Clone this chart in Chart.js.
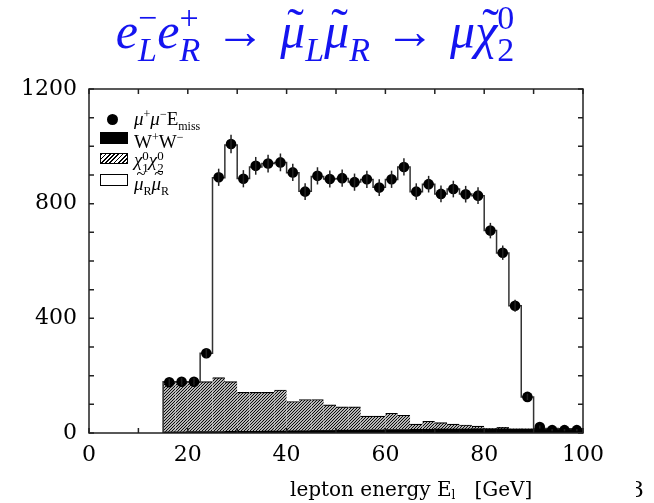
<!DOCTYPE html>
<html>
<head>
  <title>Lepton energy spectrum</title>
  <script src="https://cdn.jsdelivr.net/npm/chart.js"></script>
  <style>
    body { margin: 0; background: #fff; }
    #wrap { position: relative; width: 654px; height: 503px; overflow: hidden; }
    .txt { position: absolute; font-family: 'Liberation Serif', 'DejaVu Serif', serif; color: #000; white-space: nowrap; line-height: 1; }
    #title { left: 0; top: 2px; width: 630px; text-align: center; color: #1414f0; font-size: 50px; font-style: italic; }
    .up { font-style: normal; }
    .arr { font-style: normal; margin: 0 0.3em; }
    .ss { display: inline-block; vertical-align: -0.38em; font-size: 0.68em; line-height: 0.95; text-align: left; }
    .ss span { display: block; }
    .tl { position: relative; display: inline-block; }
    .til { position: absolute; left: 0.14em; top: -0.1em; font-style: normal; }
    .box { position: absolute; box-sizing: border-box; }
    #xlabel { left: 290px; top: 479px; font-family: 'DejaVu Serif', serif; font-size: 20px; }
    #xlabel sub { font-size: 12px; vertical-align: -3px; }
    #fig { left: 636px; top: 479px; width: 18px; overflow: hidden; font-family: 'DejaVu Serif', serif; font-size: 22px; }
    #fig span { position: relative; left: -6px; }
    .leg { font-size: 19px; }
    .leg sup, .leg sub { font-size: 12px; }
    .leg .ss { font-size: 0.68em; vertical-align: -0.45em; line-height: 0.9; }
    .leg .til2 { position: absolute; left: 0.15em; top: -0.5em; font-size: 0.9em; font-style: normal; line-height: 1; }
  </style>
</head>
<body>
<div id="wrap">
  <canvas id="spectrum" width="654" height="503"></canvas>

  <div id="title" class="txt">e<span class="ss"><span class="up">−</span><span>L</span></span>e<span class="ss"><span class="up">+</span><span>R</span></span><span class="arr">→</span><span class="tl">μ<span class="til">˜</span></span><span class="ss"><span>&nbsp;</span><span>L</span></span><span class="tl">μ<span class="til">˜</span></span><span class="ss"><span>&nbsp;</span><span>R</span></span><span class="arr">→</span>μ<span class="tl">χ<span class="til">˜</span></span><span class="ss"><span class="up">0</span><span class="up">2</span></span></div>

  <div class="box" style="left:107px;top:114px;width:11px;height:11px;border-radius:50%;background:#000"></div>
  <div class="box" style="left:100px;top:132px;width:28px;height:12px;background:#000"></div>
  <div class="box" style="left:100px;top:153px;width:28px;height:11px;border:1px solid #000;background:repeating-linear-gradient(135deg,#000 0 1.2px,#fff 1.2px 3px)"></div>
  <div class="box" style="left:100px;top:174px;width:28px;height:12px;border:1px solid #000;background:#fff"></div>

  <div class="txt leg" style="left:134px;top:108px"><i>μ</i><sup>+</sup><i>μ</i><sup>−</sup>E<sub>miss</sub></div>
  <div class="txt leg" style="left:134px;top:131px">W<sup>+</sup>W<sup>−</sup></div>
  <div class="txt leg" style="left:134px;top:150px"><i>χ</i><span class="ss"><span>0</span><span>1</span></span><i>χ</i><span class="ss"><span>0</span><span>2</span></span></div>
  <div class="txt leg" style="left:134px;top:174px"><i class="tl">μ<span class="til2">~</span></i><sub>R</sub><i class="tl">μ<span class="til2">~</span></i><sub>R</sub></div>

  <div id="xlabel" class="txt">lepton energy E<sub>l</sub>&nbsp;&nbsp; [GeV]</div>
  <div id="fig" class="txt"><span>3</span></div>
</div>

<script>
  // 2.5 GeV bins from 15 to 100 GeV
  const binWidth = 2.5;
  const binCenters = [16.25, 18.75, 21.25, 23.75, 26.25, 28.75, 31.25, 33.75, 36.25, 38.75,
    41.25, 43.75, 46.25, 48.75, 51.25, 53.75, 56.25, 58.75, 61.25, 63.75,
    66.25, 68.75, 71.25, 73.75, 76.25, 78.75, 81.25, 83.75, 86.25, 88.75,
    91.25, 93.75, 96.25, 98.75];

  // mu+ mu- E_miss (points)
  const dataCounts = [177, 179, 179, 278, 892, 1008, 887, 932, 940, 944,
    909, 842, 897, 886, 889, 875, 885, 856, 885, 928,
    842, 868, 834, 851, 833, 828, 706, 629, 444, 126,
    21, 10, 10, 10];
  const dataErrors = [13, 13, 13, 17, 30, 32, 30, 31, 31, 31,
    30, 29, 30, 30, 30, 30, 30, 29, 30, 30,
    29, 29, 29, 29, 29, 29, 27, 25, 21, 11,
    5, 4, 4, 4];

  // total expectation (step line)
  const mcTotal = [179, 179, 179, 278, 890, 1005, 888, 928, 940, 944,
    908, 843, 895, 886, 888, 876, 884, 857, 884, 928,
    842, 868, 834, 851, 834, 828, 706, 628, 444, 126,
    16, 16, 15, 15];

  // W+W- background (black)
  const wwBkg = [4, 4, 5, 5, 5, 6, 6, 6, 7, 7,
    8, 8, 9, 9, 10, 10, 11, 11, 12, 12,
    13, 13, 14, 14, 14, 15, 15, 15, 14, 14,
    16, 16, 15, 15];

  // chi1 chi2 (hatched)
  const chiBkg = [175, 175, 174, 174, 188, 173, 136, 136, 135, 143,
    102, 109, 108, 89, 81, 81, 48, 48, 57, 50,
    18, 28, 22, 17, 14, 9, 0, 5, 0, 0,
    0, 0, 0, 0];

  const xLabelEvery = 20;
  const yLabelEvery = 400;

  function makeHatch() {
    const c = document.createElement('canvas');
    c.width = 3; c.height = 3;
    const g = c.getContext('2d');
    g.fillStyle = '#fff';
    g.fillRect(0, 0, 3, 3);
    g.strokeStyle = '#000';
    g.lineWidth = 1.1;
    g.beginPath();
    g.moveTo(0, 3); g.lineTo(3, 0);
    g.moveTo(-1, 1); g.lineTo(1, -1);
    g.moveTo(2, 4); g.lineTo(4, 2);
    g.stroke();
    return g.createPattern(c, 'repeat');
  }

  const firstEdge = binCenters[0] - binWidth / 2;
  const lastEdge = binCenters[binCenters.length - 1] + binWidth / 2;
  const outline = [{ x: firstEdge, y: 0 }, { x: firstEdge, y: mcTotal[0] }]
    .concat(binCenters.map((c, i) => ({ x: c, y: mcTotal[i] })))
    .concat([{ x: lastEdge, y: mcTotal[mcTotal.length - 1] }]);

  const framePlugin = {
    id: 'frame',
    afterDatasetsDraw(chart) {
      const { ctx, chartArea: a, scales: { x, y } } = chart;
      ctx.save();
      // error bars
      ctx.strokeStyle = '#222';
      ctx.lineWidth = 1.5;
      binCenters.forEach((c, i) => {
        const px = x.getPixelForValue(c);
        ctx.beginPath();
        ctx.moveTo(px, y.getPixelForValue(dataCounts[i] - dataErrors[i]));
        ctx.lineTo(px, y.getPixelForValue(dataCounts[i] + dataErrors[i]));
        ctx.stroke();
      });
      // frame + inward ticks on all sides
      ctx.strokeStyle = '#222';
      ctx.lineWidth = 1.5;
      ctx.strokeRect(a.left, a.top, a.right - a.left, a.bottom - a.top);
      ctx.beginPath();
      x.ticks.forEach(t => {
        const px = x.getPixelForValue(t.value);
        ctx.moveTo(px, a.bottom); ctx.lineTo(px, a.bottom - 5);
        ctx.moveTo(px, a.top); ctx.lineTo(px, a.top + 5);
      });
      y.ticks.forEach(t => {
        const py = y.getPixelForValue(t.value);
        ctx.moveTo(a.left, py); ctx.lineTo(a.left + 5, py);
        ctx.moveTo(a.right, py); ctx.lineTo(a.right - 5, py);
      });
      ctx.stroke();
      ctx.restore();
    }
  };

  Chart.defaults.font.family = "'DejaVu Serif', serif";
  Chart.defaults.color = '#000';

  new Chart(document.getElementById('spectrum'), {
    type: 'bar',
    data: {
      datasets: [
        {
          type: 'line',
          label: 'mu+ mu- Emiss',
          data: binCenters.map((c, i) => ({ x: c, y: dataCounts[i] })),
          showLine: false,
          pointRadius: 5.3,
          pointBackgroundColor: '#000',
          pointBorderWidth: 0,
          stack: 'pts',
          order: 0
        },
        {
          type: 'line',
          label: 'total',
          data: outline,
          stepped: 'middle',
          borderColor: '#333',
          borderWidth: 1.5,
          pointRadius: 0,
          fill: false,
          stack: 'outline',
          order: 1
        },
        {
          label: 'W+W-',
          data: binCenters.map((c, i) => ({ x: c, y: wwBkg[i] })),
          backgroundColor: '#000',
          borderWidth: 0,
          barPercentage: 1,
          categoryPercentage: 1,
          stack: 'bkg',
          order: 2
        },
        {
          label: 'chi1 chi2',
          data: binCenters.map((c, i) => ({ x: c, y: chiBkg[i] })),
          backgroundColor: makeHatch(),
          borderColor: '#000',
          borderWidth: { top: 1.2, left: 0, right: 0, bottom: 0 },
          borderSkipped: false,
          barPercentage: 1,
          categoryPercentage: 1,
          stack: 'bkg',
          order: 3
        }
      ]
    },
    options: {
      responsive: false,
      animation: false,
      layout: { padding: { left: 0, top: 89, right: 71, bottom: 30 } },
      plugins: { legend: { display: false }, tooltip: { enabled: false } },
      scales: {
        x: {
          type: 'linear',
          min: 0,
          max: 100,
          offset: false,
          grid: { display: false, drawTicks: false },
          border: { display: false },
          ticks: {
            stepSize: 10,
            autoSkip: false,
            maxRotation: 0,
            padding: 9,
            font: { size: 22 },
            callback: v => (v % xLabelEvery === 0 ? String(v) : '')
          },
          afterFit: s => { s.height = 40; }
        },
        y: {
          min: 0,
          max: 1200,
          stacked: true,
          grid: { display: false, drawTicks: false },
          border: { display: false },
          ticks: {
            stepSize: 100,
            autoSkip: false,
            padding: 12,
            font: { size: 22 },
            callback: v => (v % yLabelEvery === 0 ? String(v) : '')
          },
          afterFit: s => { s.width = 89; }
        }
      }
    },
    plugins: [framePlugin]
  });
</script>
</body>
</html>
